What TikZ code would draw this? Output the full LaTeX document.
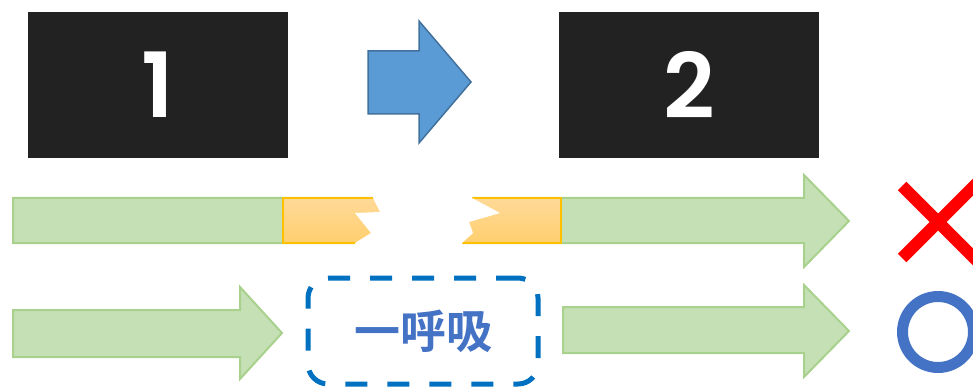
\documentclass[tikz,border=0pt]{standalone}
\usepackage{fontspec}
\usepackage{xcolor}
\usetikzlibrary{positioning}
\newfontfamily\numfont{Poppins SemiBold}
\newfontfamily\jpfont{Noto Sans CJK JP Bold}
\definecolor{boxdark}{HTML}{222222}
\definecolor{stepblue}{HTML}{5B9BD5}
\definecolor{stepblueline}{HTML}{41719C}
\definecolor{flowgreen}{HTML}{C5E0B4}
\definecolor{flowgreenline}{HTML}{A9D18E}
\definecolor{gaptop}{HTML}{FFD998}
\definecolor{gapbottom}{HTML}{FFCF6E}
\definecolor{gapline}{HTML}{FFC000}
\definecolor{breathblue}{HTML}{0070C0}
\definecolor{textblue}{HTML}{4472C4}
\definecolor{ngred}{HTML}{FF0000}

\tikzset{
  numbox/.style={fill=boxdark,text=white,minimum width=260pt,minimum height=146pt,
    inner sep=0pt,font=\numfont\fontsize{90}{90}\selectfont},
  flowarrow/.style={fill=flowgreen,draw=flowgreenline,line width=2pt},
  gapbox/.style={top color=gaptop,bottom color=gapbottom,draw=gapline,line width=1.5pt}
}

\begin{document}
\begin{tikzpicture}[x=1pt,y=-1pt]
    \useasboundingbox (0,0) rectangle (973,387);

    % Scene numbers
    \node[numbox] (box1) at (158,85) {1};
    \node[numbox,right=271pt of box1] (box2) {2};

    % Blue step arrow
    \filldraw[fill=stepblue,draw=stepblueline,line width=1.5pt]
      (368,51) -- (419,51) -- (419,21) -- (471,82) -- (419,143) -- (419,114) -- (368,114) -- cycle;

    % Row 1 - cut flow
    \filldraw[flowarrow] (13,198) -- (804,198) -- (804,175) -- (849,221) -- (804,267) -- (804,243) -- (13,243) -- cycle;
    \shade[gapbox] (283,198) rectangle (561,243);
    \draw[gapline,line width=1.5pt] (283,198) rectangle (561,243);
    \fill[white] (373,195) -- (373,198) -- (380,212) -- (355,213) -- (371,233) -- (355,243) -- (355,247)
      -- (462,247) -- (462,243) -- (473,233) -- (469,222) -- (500,213) -- (472,198) -- (472,195) -- cycle;

    % Row 2 - flow with pause
    \filldraw[flowarrow] (13,310) -- (240,310) -- (240,287) -- (282,333) -- (240,379) -- (240,357) -- (13,357) -- cycle;
    \node[draw=breathblue,dash pattern=on 22pt off 20pt,line width=5pt,rounded corners=20pt,
      minimum width=230pt,minimum height=106pt,inner sep=0pt,text=textblue,
      font=\jpfont\fontsize{46}{46}\selectfont] (breath) at (423,331) {一呼吸};
    \filldraw[flowarrow] (563,307) -- (804,307) -- (804,285) -- (849,331) -- (804,377) -- (804,353) -- (563,353) -- cycle;

    % Marks
    \coordinate (ngmark) at (938,222);
    \draw[ngred,line width=12pt] ([shift={(-36,-36)}]ngmark) -- ([shift={(40,40)}]ngmark);
    \draw[ngred,line width=12pt] ([shift={(-36,36)}]ngmark) -- ([shift={(40,-40)}]ngmark);
    \node[circle,draw=textblue,line width=11pt,minimum size=71pt,inner sep=0pt] (okmark) at (938,332) {};
\end{tikzpicture}
\end{document}
